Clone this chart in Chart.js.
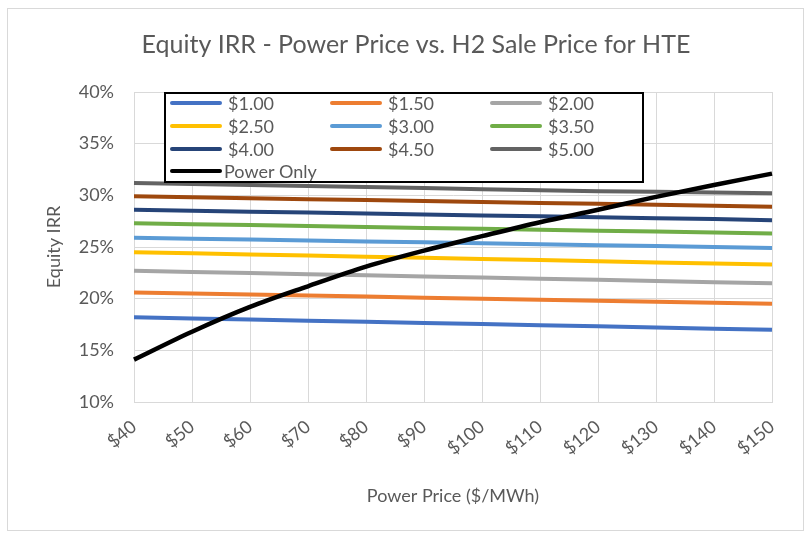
<!DOCTYPE html>
<html>
<head>
<meta charset="utf-8">
<script src="https://cdn.jsdelivr.net/npm/chart.js@4.4.1/dist/chart.umd.min.js"></script>
<style>
  html, body { margin: 0; padding: 0; background: #fff; }
  #wrap { width: 810px; height: 538px; position: relative; }
</style>
</head>
<body>
<div id="wrap"><canvas id="c" width="810" height="538"></canvas></div>
<script>
// ---- data ----
const powerPrices = ['$40','$50','$60','$70','$80','$90','$100','$110','$120','$130','$140','$150'];
const yTicks = [10, 15, 20, 25, 30, 35, 40];
const seriesLabels = ['$1.00','$1.50','$2.00','$2.50','$3.00','$3.50','$4.00','$4.50','$5.00','Power Only'];
const h2_100 = [18.2,18.09,17.98,17.87,17.76,17.65,17.54,17.43,17.32,17.21,17.1,16.99];
const h2_150 = [20.6,20.5,20.4,20.3,20.2,20.1,20.0,19.9,19.8,19.7,19.6,19.5];
const h2_200 = [22.7,22.59,22.48,22.37,22.26,22.15,22.04,21.93,21.82,21.71,21.6,21.5];
const h2_250 = [24.5,24.39,24.28,24.17,24.06,23.95,23.84,23.73,23.62,23.51,23.4,23.3];
const h2_300 = [25.9,25.81,25.72,25.63,25.54,25.45,25.36,25.27,25.18,25.09,25.0,24.9];
const h2_350 = [27.3,27.21,27.12,27.03,26.94,26.85,26.76,26.67,26.58,26.49,26.4,26.3];
const h2_400 = [28.6,28.51,28.42,28.33,28.24,28.15,28.06,27.97,27.88,27.79,27.7,27.6];
const h2_450 = [29.9,29.81,29.72,29.63,29.54,29.45,29.36,29.27,29.18,29.09,29.0,28.9];
const h2_500 = [31.2,31.1,31.0,30.9,30.8,30.7,30.6,30.5,30.4,30.35,30.27,30.2];
const powerOnly = [14.1,16.8,19.2,21.2,23.1,24.65,26.05,27.4,28.6,29.85,31.0,32.1];

const seriesValues = [h2_100,h2_150,h2_200,h2_250,h2_300,h2_350,h2_400,h2_450,h2_500,powerOnly];
const seriesColors = ['#4472C4','#ED7D31','#A5A5A5','#FFC000','#5B9BD5','#70AD47','#264478','#9E480E','#636363','#000000'];

const FONT = 'Lato, "Open Sans", "Liberation Sans", sans-serif';
const TEXT = '#595959';

const datasets = seriesLabels.map((lab, i) => ({
  label: lab,
  data: seriesValues[i],
  borderColor: seriesColors[i],
  backgroundColor: seriesColors[i],
  borderWidth: i === 9 ? 4.5 : 4,
  pointRadius: 0,
  pointHoverRadius: 0,
  tension: 0,
  cubicInterpolationMode: i === 9 ? 'monotone' : 'default',
  fill: false,
  order: i === 9 ? 0 : 1
}));

const framePlugin = {
  id: 'frame',
  beforeDraw(chart) {
    const ctx = chart.ctx;
    ctx.save();
    ctx.fillStyle = '#fff';
    ctx.fillRect(0, 0, chart.width, chart.height);
    ctx.strokeStyle = '#d9d9d9';
    ctx.lineWidth = 1;
    ctx.strokeRect(7.5, 8.5, 796, 522);
    ctx.fillStyle = TEXT;
    ctx.font = '25px ' + FONT;
    ctx.textAlign = 'center';
    ctx.textBaseline = 'middle';
    ctx.fillText('Equity IRR - Power Price vs. H2 Sale Price for HTE', 416, 45);
    ctx.restore();
  }
};

const legendPlugin = {
  id: 'boxLegend',
  afterDatasetsDraw(chart) {
    const ctx = chart.ctx;
    const box = { x: 165, y: 93, w: 478, h: 89 };
    ctx.save();
    ctx.fillStyle = '#fff';
    ctx.fillRect(box.x, box.y, box.w, box.h);
    ctx.strokeStyle = '#000';
    ctx.lineWidth = 2;
    ctx.strokeRect(box.x, box.y, box.w, box.h);
    const colX = [172, 332, 492];
    const rowY = [103, 126, 149, 171];
    ctx.font = '18px ' + FONT;
    ctx.textBaseline = 'middle';
    ctx.textAlign = 'left';
    chart.data.datasets.forEach((ds, i) => {
      const col = i % 3, row = Math.floor(i / 3);
      const x = colX[col], y = rowY[row];
      ctx.strokeStyle = ds.borderColor;
      ctx.lineWidth = 4;
      ctx.lineCap = 'round';
      ctx.beginPath();
      ctx.moveTo(x, y);
      ctx.lineTo(x + 48, y);
      ctx.stroke();
      ctx.fillStyle = TEXT;
      ctx.fillText(ds.label, x + (i === 9 ? 52 : 56), y + 1);
    });
    ctx.restore();
  }
};

new Chart(document.getElementById('c'), {
  type: 'line',
  data: { labels: powerPrices, datasets },
  plugins: [framePlugin, legendPlugin],
  options: {
    responsive: false,
    animation: false,
    devicePixelRatio: 1,
    layout: { padding: { top: 92, right: 38, left: 0, bottom: 0 } },
    plugins: { legend: { display: false }, title: { display: false }, tooltip: { enabled: false } },
    scales: {
      x: {
        offset: false,
        grid: { color: '#d9d9d9', lineWidth: 1, drawTicks: false },
        border: { color: '#d9d9d9' },
        ticks: {
          color: TEXT, font: { family: FONT, size: 18 },
          minRotation: 40, maxRotation: 40, padding: 14, autoSkip: false
        },
        title: {
          display: true, text: 'Power Price ($/MWh)', color: TEXT,
          font: { family: FONT, size: 18 }, padding: { top: 0, bottom: 31 }
        },
        afterFit(scale) { scale.height = 136; }
      },
      y: {
        min: 10, max: 40,
        afterBuildTicks(scale) { scale.ticks = yTicks.map(v => ({ value: v })); },
        grid: { color: '#d9d9d9', lineWidth: 1, drawTicks: false },
        border: { color: '#d9d9d9' },
        ticks: {
          color: TEXT, font: { family: FONT, size: 18 }, padding: 20,
          callback: v => v + '%'
        },
        title: {
          display: true, text: 'Equity IRR', color: TEXT,
          font: { family: FONT, size: 18 }, padding: { top: 43, bottom: 0 }
        },
        afterFit(scale) { scale.width = 134; }
      }
    }
  }
});
</script>
</body>
</html>
